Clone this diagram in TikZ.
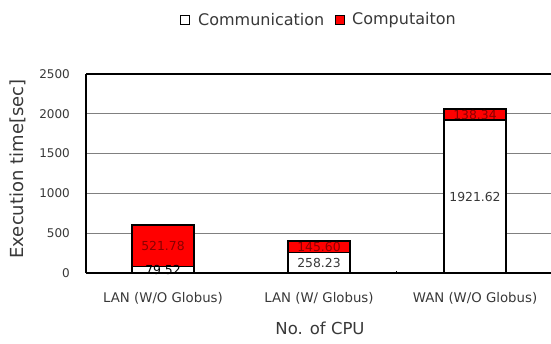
\documentclass[tikz,border=0pt]{standalone}
\usepackage{fontspec}
\setmainfont{DejaVu Sans}
\definecolor{txtgray}{HTML}{383838}
\definecolor{gridgray}{HTML}{808080}
\definecolor{barred}{HTML}{FF0000}
\definecolor{valred}{HTML}{8A0000}
\begin{document}
\begin{tikzpicture}[x=1pt,y=1pt,
  gridline/.style={gridgray,line width=0.9pt},
  axisline/.style={black,line width=1.1pt},
  barbox/.style={draw=black,line width=1.6pt},
  ticklbl/.style={anchor=east,text=txtgray,font=\fontsize{12}{14}\selectfont,inner sep=0pt},
  catlbl/.style={text=txtgray,font=\fontsize{13.3}{15}\selectfont,inner sep=0pt},
  vallbl/.style={font=\fontsize{12.4}{14}\selectfont,inner sep=0pt},
  legbox/.style={draw=black,line width=1.2pt,minimum size=9pt,inner sep=0pt},
  legtxt/.style={anchor=west,text=txtgray,font=\fontsize{16}{18}\selectfont,inner sep=0pt},
  ttl/.style={text=txtgray,inner sep=0pt}
]
\useasboundingbox (0,0) rectangle (551,343);
% grid
\foreach \v in {500,1000,1500,2000} {
  \draw[gridline] (86,{70+\v*0.0796}) -- (551,{70+\v*0.0796});
}
\draw[axisline] (86,{70+2500*0.0796}) -- (551,{70+2500*0.0796});
% tick labels
\foreach \v/\n in {0/t0,500/t1,1000/t2,1500/t3,2000/t4,2500/t5} {
  \node[ticklbl] (\n) at (70,{70+\v*0.0796}) {\v};
}
% bars
% bar 1
\draw[barbox,fill=barred] (132,{70+79.52*0.0796}) rectangle (194,{70+601.30*0.0796});
\draw[barbox,fill=white] (132,70) rectangle (194,{70+79.52*0.0796});
% bar 2
\draw[barbox,fill=barred] (288,{70+258.23*0.0796}) rectangle (350,{70+403.83*0.0796});
\draw[barbox,fill=white] (288,70) rectangle (350,{70+258.23*0.0796});
% bar 3
\draw[barbox,fill=barred] (444,{70+1921.62*0.0796}) rectangle (506,{70+2059.96*0.0796});
\draw[barbox,fill=white] (444,70) rectangle (506,{70+1921.62*0.0796});
% axes
\draw[black,line width=0.8pt] (396,70) -- (396,72.5);
\draw[axisline] (86,70) -- (86,{70+2500*0.0796});
\draw[axisline] (85.5,70) -- (551,70);
% value labels
\node[vallbl,text=black] (v1a) at (163,{70+39.76*0.0796}) {79.52};
\node[vallbl,text=valred] (v1b) at (163,{70+340.41*0.0796}) {521.78};
\node[vallbl,text=txtgray] (v2a) at (319,{70+129.1*0.0796}) {258.23};
\node[vallbl,text=valred] (v2b) at (319,{70+331.0*0.0796}) {145.60};
\node[vallbl,text=txtgray] (v3a) at (475,{70+960.81*0.0796}) {1921.62};
\node[vallbl,text=valred] (v3b) at (475,{70+1990.79*0.0796}) {138.34};
% category labels
\node[catlbl] (c1) at (163,45) {LAN (W/O Globus)};
\node[catlbl] (c2) at (319,45) {LAN (W/ Globus)};
\node[catlbl] (c3) at (475,45) {WAN (W/O Globus)};
% axis titles
\node[ttl,font=\fontsize{16.5}{18}\selectfont] (xt) at (320,15) {No. of CPU};
\node[ttl,font=\fontsize{18}{20}\selectfont,rotate=90] (yt) at (18,174) {Execution time[sec]};
% legend
\node[legbox,fill=white] (lb1) at (185,323) {};
\node[legtxt] (lt1) at (198,323) {Communication};
\node[legbox,fill=barred] (lb2) at (340,323) {};
\node[legtxt] (lt2) at (352,323) {Computaiton};
\end{tikzpicture}
\end{document}
